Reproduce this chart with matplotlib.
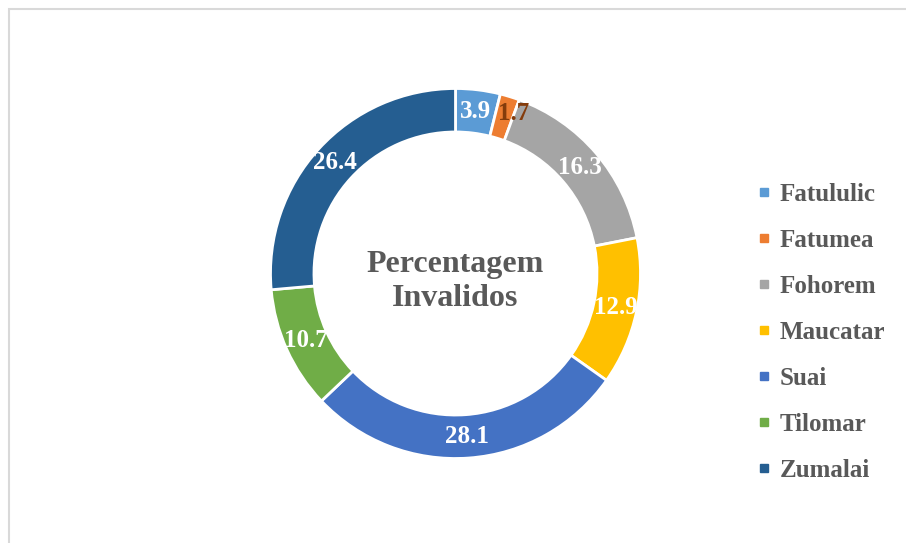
import matplotlib
matplotlib.use("Agg")
import matplotlib.pyplot as plt
from matplotlib.lines import Line2D
from matplotlib.patches import Rectangle
import numpy as np

labels = ["Fatululic", "Fatumea", "Fohorem", "Maucatar", "Suai", "Tilomar", "Zumalai"]
values = [3.9, 1.7, 16.3, 12.9, 28.1, 10.7, 26.4]
colors = ["#5B9BD5", "#ED7D31", "#A5A5A5", "#FFC000", "#4472C4", "#70AD47", "#255E91"]
label_colors = ["white", "#843C0C", "white", "white", "white", "white", "white"]

plt.rcParams["font.family"] = ["Liberation Serif", "DejaVu Serif"]

W, H = 906, 543
fig = plt.figure(figsize=(W / 100, H / 100), dpi=100)
ax = fig.add_axes([0, 0, 1, 1])
ax.set_xlim(0, W)
ax.set_ylim(0, H)
ax.set_aspect("equal")
ax.axis("off")

# light frame around chart area
fig.patches.append(Rectangle((9 / W, -0.1), 1.2, (H - 9) / H + 0.1, transform=fig.transFigure,
                             fill=False, edgecolor="#D9D9D9", linewidth=1.5))

cx, cy, R = 455.5, H - 273.5, 185
wedges, _ = ax.pie(values, colors=colors, startangle=90, counterclock=False,
                   center=(cx, cy), radius=R,
                   wedgeprops=dict(width=R * 0.235, edgecolor="white", linewidth=2))
ax.set_xlim(0, W)
ax.set_ylim(0, H)

r_lab = R * 0.885
for i, (w, v, c) in enumerate(zip(wedges, values, label_colors)):
    ang = np.deg2rad((w.theta1 + w.theta2) / 2)
    x, y = cx + r_lab * np.cos(ang), cy + r_lab * np.sin(ang)
    if i == 1:  # small slice label is pushed aside, as in the original
        x, y = x + 10, y + 4
    ax.text(x, y, f"{v}", ha="center", va="center", fontsize=18, fontweight="bold", color=c)

ax.text(cx, cy - 8, "Percentagem\nInvalidos", ha="center", va="center", fontsize=23,
        fontweight="bold", color="#595959", linespacing=1.24)

handles = [Line2D([], [], marker="s", linestyle="", markersize=5.5, color=c) for c in colors]
leg = ax.legend(handles, labels, loc="upper left", bbox_to_anchor=(756.5 / W, 1 - 183 / H),
                bbox_transform=fig.transFigure, frameon=False, borderpad=0, borderaxespad=0,
                handlelength=0.6, handletextpad=0.34, labelspacing=0.92,
                prop=dict(family="Liberation Serif", weight="bold", size=18))
for t in leg.get_texts():
    t.set_color("#595959")

fig.savefig("out.png", dpi=100)
